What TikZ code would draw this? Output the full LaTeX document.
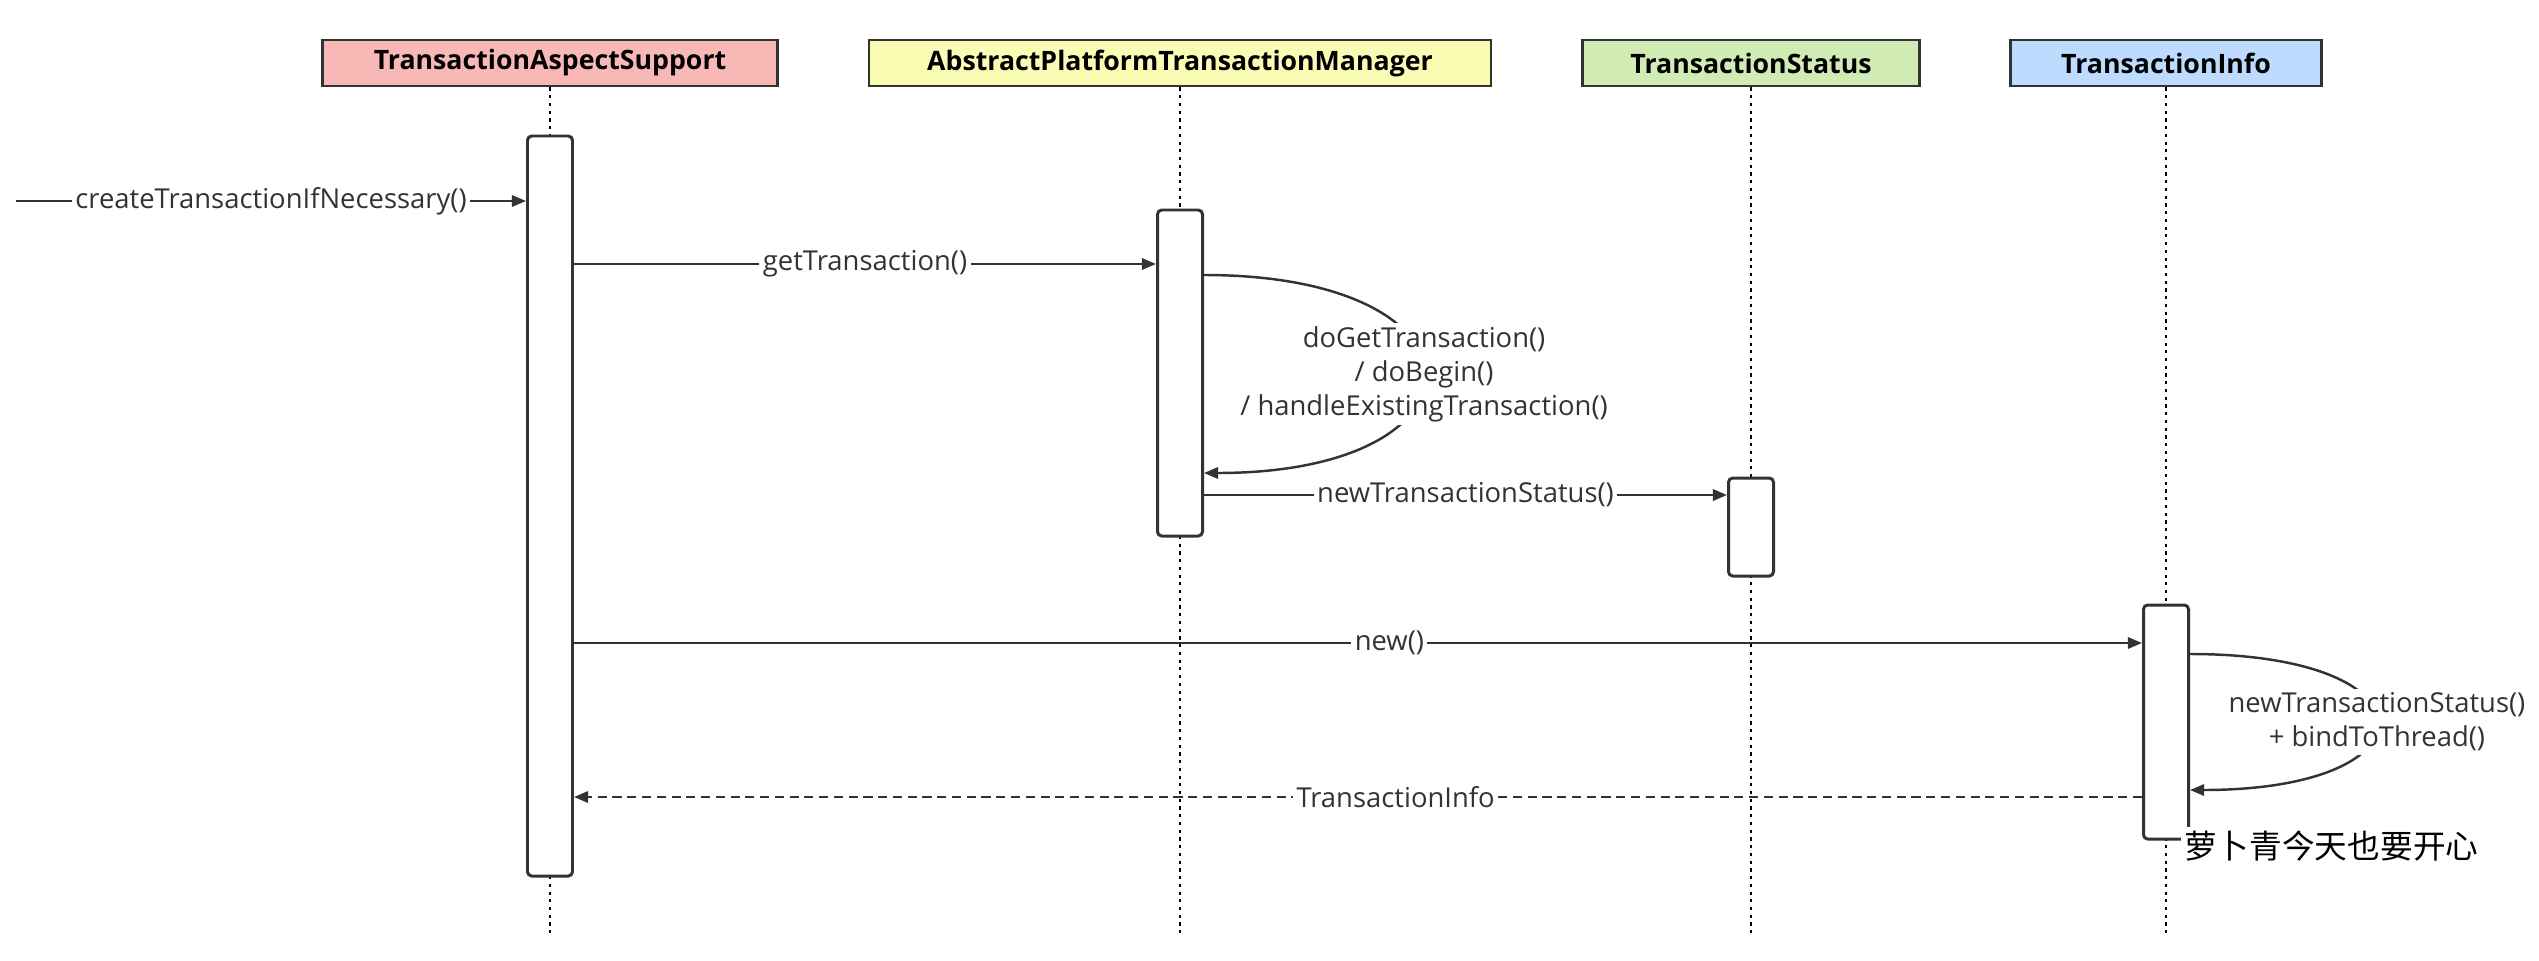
\documentclass[tikz,border=0pt]{standalone}
\usepackage{fontspec}
\setmainfont{Open Sans}
\newfontfamily\cjkfont{Noto Sans CJK SC}
\usetikzlibrary{arrows.meta}

\definecolor{hdrred}{RGB}{248,184,182}
\definecolor{hdryellow}{RGB}{251,252,180}
\definecolor{hdrgreen}{RGB}{208,236,180}
\definecolor{hdrblue}{RGB}{188,219,255}
\definecolor{linegray}{RGB}{51,51,51}

\begin{document}
\begin{tikzpicture}
    \useasboundingbox (0,0) rectangle (25.39,-9.61);
    \begin{scope}[every node/.style={rectangle,draw=linegray,line width=0.8pt,
        minimum height=0.46cm,inner sep=0pt,font=\bfseries\fontsize{7.6}{9}\selectfont}]
        \node[fill=hdrred,minimum width=4.55cm] (tas) at (5.50,-0.63) {TransactionAspectSupport};
        \node[fill=hdryellow,minimum width=6.22cm] (aptm) at (11.80,-0.63) {AbstractPlatformTransactionManager};
        \node[fill=hdrgreen,minimum width=3.37cm] (ts) at (17.51,-0.63) {TransactionStatus};
        \node[fill=hdrblue,minimum width=3.11cm] (ti) at (21.66,-0.63) {TransactionInfo};
    \end{scope}
    \coordinate (end) at (0,-9.36);
    \begin{scope}[every edge/.style={draw=black,line width=0.6pt,dash pattern=on 0.9pt off 1.3pt}]
        \path (tas.south) edge (tas.south |- end);
        \path (aptm.south) edge (aptm.south |- end);
        \path (ts.south) edge (ts.south |- end);
        \path (ti.south) edge (ti.south |- end);
    \end{scope}
    \begin{scope}[every node/.style={rectangle,rounded corners=1.2pt,draw=linegray,
        line width=0.85pt,fill=white,minimum width=0.45cm,inner sep=0pt}]
        \node[minimum height=7.40cm] (b1) at (5.50,-5.06) {};
        \node[minimum height=3.26cm] (b2) at (11.80,-3.73) {};
        \node[minimum height=0.98cm] (b3) at (17.51,-5.27) {};
        \node[minimum height=2.34cm] (b4) at (21.66,-7.22) {};
    \end{scope}
    % message levels
    \coordinate (in) at (0.16,-2.01);
    \coordinate (y1) at (0,-2.64);
    \coordinate (y2) at (0,-2.75);
    \coordinate (y3) at (0,-4.73);
    \coordinate (y4) at (0,-4.95);
    \coordinate (y5) at (0,-6.43);
    \coordinate (y6) at (0,-6.54);
    \coordinate (y7) at (0,-7.90);
    \coordinate (y8) at (0,-7.97);
    \begin{scope}[>={Triangle[length=4pt,width=3.2pt]},
        every node/.style={fill=white,inner sep=1pt,text=linegray,align=center,
            font=\fontsize{7.8}{9.7}\selectfont},
        every edge/.style={draw=linegray,line width=0.7pt}]
        \path [->] (in) edge node {createTransactionIfNecessary()} (in -| b1.west);
        \path [->] (y1 -| b1.east) edge node {getTransaction()} (y1 -| b2.west);
        \path [->] (y2 -| b2.east) edge[out=0,in=0,looseness=3.8]
            node {doGetTransaction()\\/ doBegin()\\/ handleExistingTransaction()} (y3 -| b2.east);
        \path [->] (y4 -| b2.east) edge node {newTransactionStatus()} (y4 -| b3.west);
        \path [->] (y5 -| b1.east) edge node[pos=0.52] {new()} (y5 -| b4.west);
        \path [->] (y6 -| b4.east) edge[out=0,in=0,looseness=4.7]
            node {newTransactionStatus()\\+ bindToThread()} (y7 -| b4.east);
        \path [->] (y8 -| b4.west) edge[dash pattern=on 2.6pt off 1.6pt]
            node[pos=0.476] {TransactionInfo} (y8 -| b1.east);
    \end{scope}
    \node[fill=white,inner sep=1pt,anchor=west,font=\cjkfont\fontsize{9.3}{11}\selectfont]
        (note) at (21.80,-8.46) {萝卜青今天也要开心};
\end{tikzpicture}
\end{document}
